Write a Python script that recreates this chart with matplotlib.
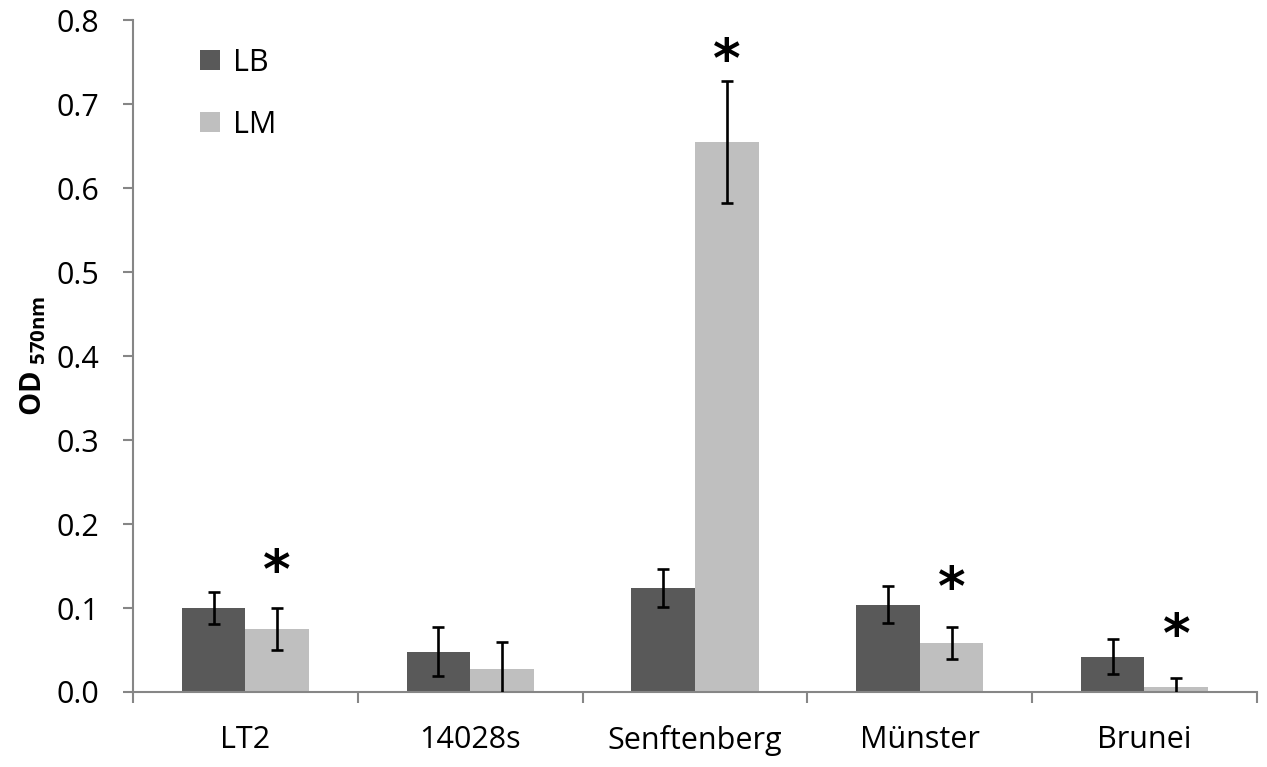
import matplotlib
matplotlib.use("Agg")
import matplotlib.pyplot as plt
import numpy as np

categories = ["LT2", "14028s", "Senftenberg", "Münster", "Brunei"]
lb_values = [0.100, 0.048, 0.124, 0.104, 0.042]
lb_errors = [0.019, 0.029, 0.023, 0.022, 0.021]
lm_values = [0.075, 0.027, 0.655, 0.058, 0.006]
lm_errors = [0.025, 0.032, 0.073, 0.019, 0.011]
lm_significant = [True, False, True, True, True]
star_heights = [0.142, None, 0.750, 0.121, 0.065]
y_ticks = [0.0, 0.1, 0.2, 0.3, 0.4, 0.5, 0.6, 0.7, 0.8]
y_tick_labels = ["0.0", "0.1", "0.2", "0.3", "0.4", "0.5", "0.6", "0.7", "0.8"]

plt.rcParams['font.family'] = ['Open Sans', 'DejaVu Sans']
plt.rcParams['mathtext.fontset'] = 'custom'
plt.rcParams['mathtext.bf'] = 'Open Sans:bold'
plt.rcParams['mathtext.rm'] = 'Open Sans'

fig = plt.figure(figsize=(12.67, 7.67), dpi=100)
ax = fig.add_axes([0.105, 0.0978, 0.887, 0.876])

x = np.arange(len(categories))
w = 0.283
dark = "#595959"
light = "#bfbfbf"
axis_col = "#868686"

ax.bar(x - w / 2, lb_values, w, color=dark, label="LB", zorder=2)
ax.bar(x + w / 2, lm_values, w, color=light, label="LM", zorder=2)
ax.errorbar(x - w / 2, lb_values, yerr=lb_errors, fmt="none", ecolor="black",
            elinewidth=1.9, capsize=4.3, capthick=1.9, zorder=3)
ax.errorbar(x + w / 2, lm_values, yerr=lm_errors, fmt="none", ecolor="black",
            elinewidth=1.9, capsize=4.3, capthick=1.9, zorder=3)

for i, (sig, sy) in enumerate(zip(lm_significant, star_heights)):
    if sig:
        ax.text(x[i] + w / 2, sy, "*", ha="center", va="center",
                fontsize=38, fontweight="bold", color="black",
                family=["DejaVu Sans"])

ax.set_xlim(-0.5, len(categories) - 0.5)
ax.set_ylim(0, 0.8)
ax.set_yticks(y_ticks)
ax.set_yticklabels(y_tick_labels, fontsize=22)
ax.set_xticks(x)
ax.set_xticklabels(categories, fontsize=22)
ax.set_xticks(np.arange(-0.5, len(categories)), minor=True)
ax.tick_params(axis="x", which="major", length=0, pad=24)
ax.tick_params(axis="x", which="minor", length=8, width=1.5, color=axis_col, direction="out")
ax.tick_params(axis="y", which="major", length=7, width=1.5, color=axis_col, direction="out", pad=17)

for s in ["top", "right"]:
    ax.spines[s].set_visible(False)
for s in ["left", "bottom"]:
    ax.spines[s].set_color(axis_col)
    ax.spines[s].set_linewidth(1.5)

ax.set_ylabel(r"$\mathbf{OD}_{\ \mathbf{570nm}}$", fontsize=21, labelpad=6)

leg = ax.legend(loc="upper left", bbox_to_anchor=(0.035, 1.0), frameon=False,
                fontsize=22, handlelength=0.65, handleheight=0.65,
                handletextpad=0.45, labelspacing=1.05)

fig.savefig("out.png", dpi=100)
